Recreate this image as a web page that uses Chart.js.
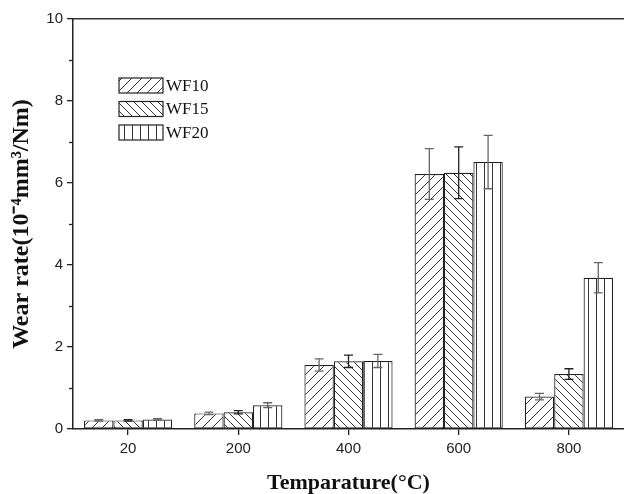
<!DOCTYPE html>
<html>
<head>
<meta charset="utf-8">
<script src="https://cdn.jsdelivr.net/npm/chart.js@4.4.1/dist/chart.umd.min.js"></script>
<style>
    html, body { margin: 0; padding: 0; background: #fff; overflow: hidden; }
</style>
</head>
<body>
<canvas id="chart" width="624" height="494"></canvas>
<script>
// values
const temperatures = ["20", "200", "400", "600", "800"];
const wf10 = [0.21, 0.38, 1.56, 6.22, 0.79];
const wf15 = [0.21, 0.41, 1.65, 6.25, 1.34];
const wf20 = [0.23, 0.58, 1.66, 6.51, 3.69];
const wf10Err = [0.02, 0.03, 0.15, 0.62, 0.08];
const wf15Err = [0.02, 0.04, 0.15, 0.63, 0.13];
const wf20Err = [0.02, 0.06, 0.16, 0.65, 0.37];
const yMin = 0;
const yMax = 10;
const yStep = 2;

const makeHatch = (kind, period) => {
    const tile = document.createElement("canvas");
    tile.width = period;
    tile.height = period;
    const g = tile.getContext("2d");
    g.fillStyle = "#fff";
    g.fillRect(0, 0, period, period);
    g.strokeStyle = "#333";
    g.lineWidth = 1;
    g.beginPath();
    if (kind === "fwd") {
        g.moveTo(-1, period + 1); g.lineTo(period + 1, -1);
        g.moveTo(-2, 2); g.lineTo(2, -2);
        g.moveTo(period - 2, period + 2); g.lineTo(period + 2, period - 2);
    } else if (kind === "back") {
        g.moveTo(-1, -1); g.lineTo(period + 1, period + 1);
        g.moveTo(period - 2, -2); g.lineTo(period + 2, 2);
        g.moveTo(-2, period - 2); g.lineTo(2, period + 2);
    } else {
        g.moveTo(period / 2 + 0.5, 0); g.lineTo(period / 2 + 0.5, period);
    }
    g.stroke();
    return g.createPattern(tile, "repeat");
};

const errorBars = {
    id: "errorBars",
    afterDatasetsDraw(chart) {
        const { ctx } = chart;
        const yScale = chart.scales.y;
        chart.data.datasets.forEach((ds, i) => {
            const meta = chart.getDatasetMeta(i);
            ctx.save();
            ctx.strokeStyle = ds.errColor;
            ctx.lineWidth = 1.3;
            meta.data.forEach((bar, j) => {
                const v = ds.data[j];
                const e = ds.errors[j];
                const top = yScale.getPixelForValue(v + e);
                const bot = yScale.getPixelForValue(v - e);
                ctx.beginPath();
                ctx.moveTo(bar.x, top); ctx.lineTo(bar.x, bot);
                ctx.moveTo(bar.x - 4.5, top); ctx.lineTo(bar.x + 4.5, top);
                ctx.moveTo(bar.x - 4.5, bot); ctx.lineTo(bar.x + 4.5, bot);
                ctx.stroke();
            });
            ctx.restore();
        });
    }
};

const minorTicks = {
    id: "minorTicks",
    afterDraw(chart) {
        const { ctx } = chart;
        const yScale = chart.scales.y;
        ctx.save();
        ctx.strokeStyle = "#222";
        ctx.lineWidth = 1.3;
        for (let v = yMin + yStep / 2; v < yMax; v += yStep) {
            const y = Math.round(yScale.getPixelForValue(v)) + 0.5;
            ctx.beginPath();
            ctx.moveTo(yScale.right - 4, y);
            ctx.lineTo(yScale.right, y);
            ctx.stroke();
        }
        ctx.restore();
    }
};

const hatchLegend = {
    id: "hatchLegend",
    afterDraw(chart) {
        const { ctx } = chart;
        chart.data.datasets.forEach((ds, i) => {
            const x = 119;
            const y = 78 + i * 23.5;
            ctx.save();
            ctx.fillStyle = ds.backgroundColor;
            ctx.fillRect(x, y, 44, 15);
            ctx.strokeStyle = "#222";
            ctx.lineWidth = 1.2;
            ctx.strokeRect(x, y, 44, 15);
            ctx.fillStyle = "#111";
            ctx.font = '17px "Liberation Serif"';
            ctx.textBaseline = "middle";
            ctx.fillText(ds.label, x + 47, y + 8.5);
            ctx.restore();
        });
    }
};

const ctx = document.getElementById("chart").getContext("2d");

new Chart(ctx, {
    type: "bar",
    data: {
        labels: temperatures,
        datasets: [
            { label: "WF10", data: wf10, errors: wf10Err, errColor: "#666", backgroundColor: makeHatch("fwd", 10) },
            { label: "WF15", data: wf15, errors: wf15Err, errColor: "#222", backgroundColor: makeHatch("back", 8) },
            { label: "WF20", data: wf20, errors: wf20Err, errColor: "#666", backgroundColor: makeHatch("vert", 8) }
        ]
    },
    options: {
        responsive: false,
        animation: false,
        devicePixelRatio: 1,
        layout: { padding: { top: 19, right: 0, bottom: 0, left: 0 } },
        datasets: {
            bar: {
                categoryPercentage: 0.8,
                barPercentage: 1,
                borderColor: "#222",
                borderWidth: 1.2,
                borderSkipped: false
            }
        },
        plugins: {
            legend: { display: false },
            tooltip: { enabled: false }
        },
        scales: {
            x: {
                grid: { drawOnChartArea: false, offset: false, color: "#222", tickLength: 6, lineWidth: 1.3 },
                border: { color: "#222", width: 1.5 },
                ticks: { font: { family: "Liberation Sans", size: 15 }, color: "#222", padding: 5 },
                title: {
                    display: true,
                    text: "Temparature(°C)",
                    font: { family: "Liberation Serif", size: 22, weight: "bold", lineHeight: 1.0 },
                    color: "#111",
                    padding: { top: 0, bottom: 0 }
                },
                afterFit: (scale) => { scale.height = 65; }
            },
            top: {
                type: "category",
                axis: "x",
                position: "top",
                grid: { display: false, drawTicks: false },
                ticks: { display: false },
                border: { display: true, color: "#333", width: 1.5 },
                afterFit: (scale) => { scale.height = 0; }
            },
            y: {
                min: yMin,
                max: yMax,
                grid: { drawOnChartArea: false, color: "#222", tickLength: 6, lineWidth: 1.3 },
                border: { color: "#222", width: 1.5 },
                ticks: { stepSize: yStep, font: { family: "Liberation Sans", size: 15 }, color: "#222", padding: 4 },
                title: {
                    display: true,
                    text: "Wear rate(10⁻⁴mm³/Nm)",
                    font: { family: "Liberation Serif", size: 24, weight: "bold" },
                    color: "#111",
                    padding: { top: 7, bottom: 0 }
                },
                afterFit: (scale) => { scale.width = 73; }
            }
        }
    },
    plugins: [errorBars, minorTicks, hatchLegend]
});
</script>
</body>
</html>
